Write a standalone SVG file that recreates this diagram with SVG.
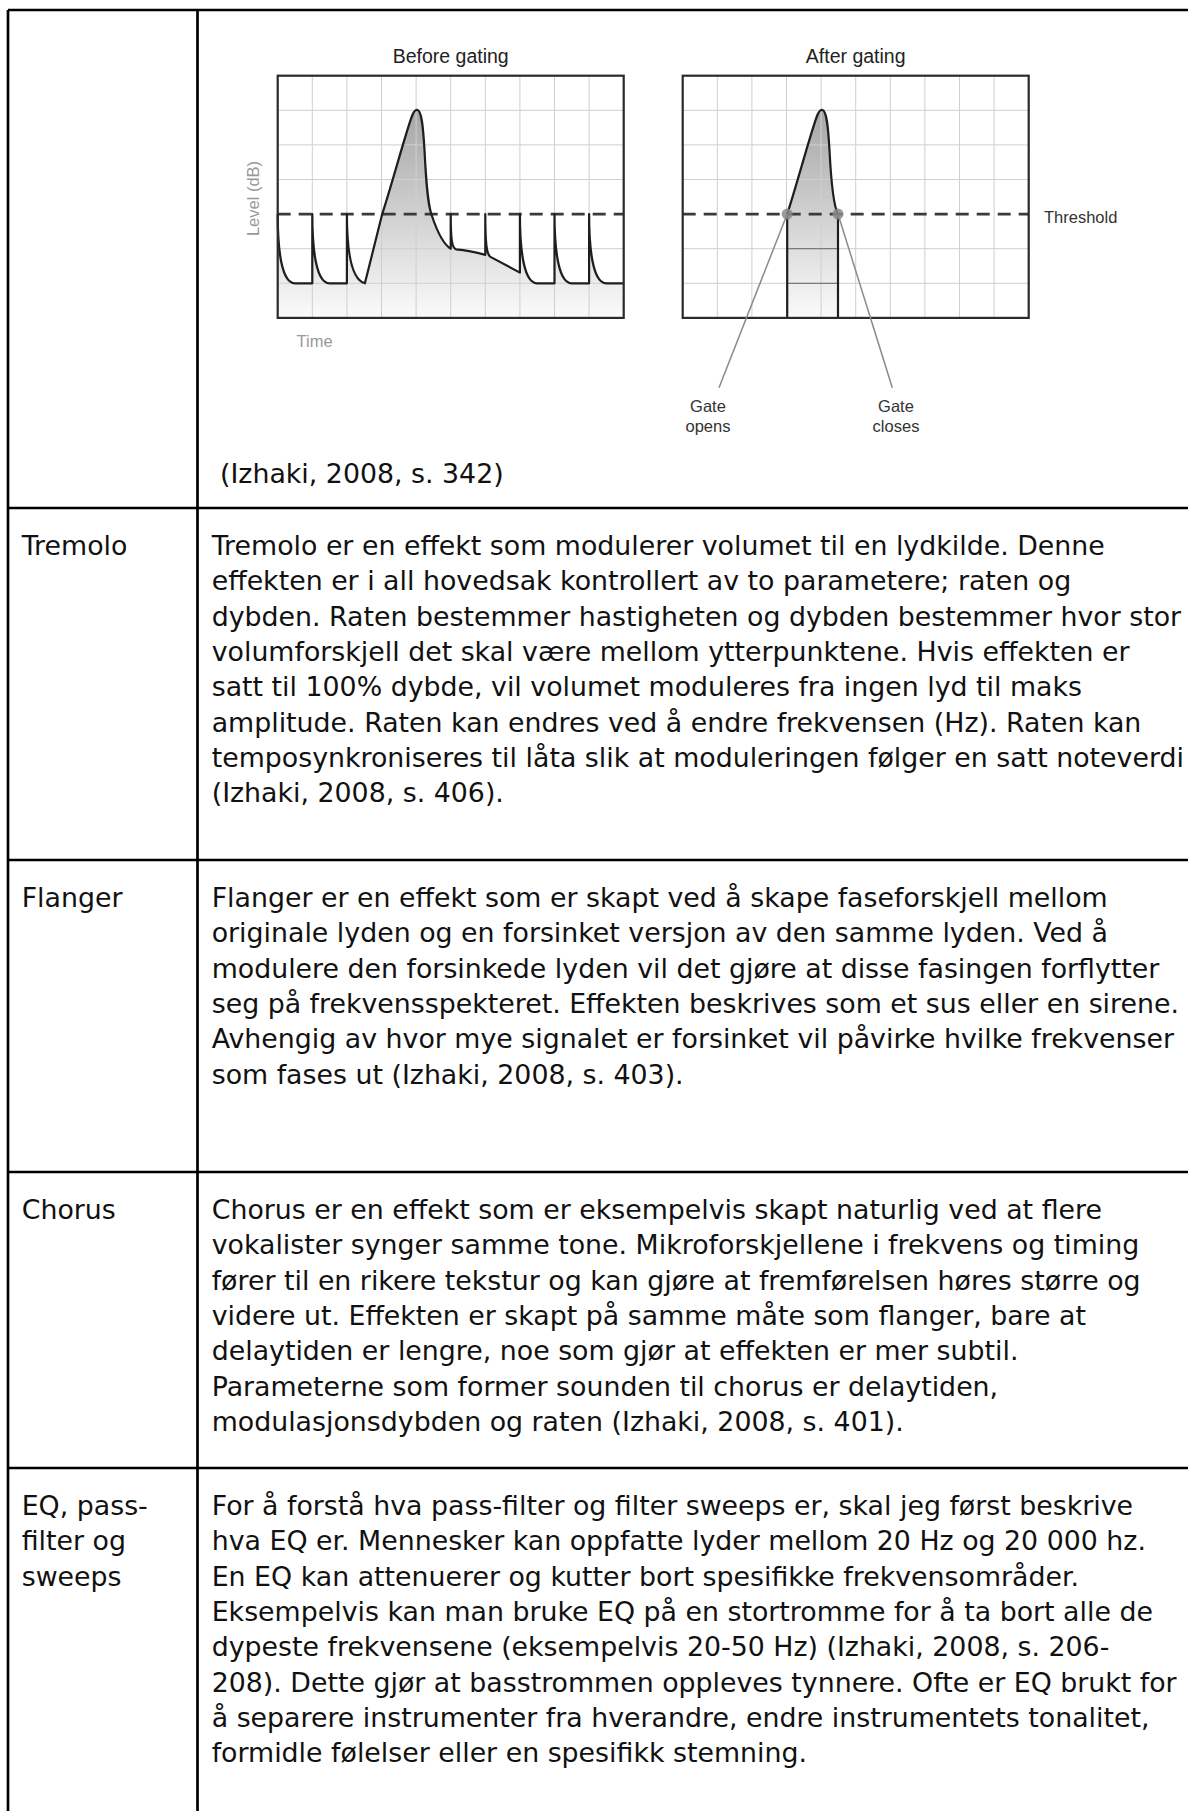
<svg xmlns="http://www.w3.org/2000/svg" width="1188" height="1811" viewBox="0 0 1188 1811">
<style>
.bg{fill:#ffffff}
.tl{stroke:#000;stroke-width:2.7;fill:none}
.body{font-family:"DejaVu Sans",Verdana,sans-serif;font-size:26.8px;fill:#111}
.grid{stroke:#cfcfcf;stroke-width:1;fill:none}
.frame{stroke:#2a2a2a;stroke-width:2.2;fill:none}
.thr{stroke:#3a3a3a;stroke-width:2.8;stroke-dasharray:13 8;fill:none}
.wave{stroke:#1e1e1e;stroke-width:2.2;fill:none;stroke-linejoin:round}
.ttl{font-family:"Liberation Sans",Arial,sans-serif;font-size:19.5px;fill:#222}
.ax{font-family:"Liberation Sans",Arial,sans-serif;font-size:16.5px;fill:#9a9a9a}
.lab{font-family:"Liberation Sans",Arial,sans-serif;font-size:16.5px;fill:#333}
.lead{stroke:#8a8a8a;stroke-width:1.5;fill:none}
.dot{fill:#8a8a8a;fill-opacity:0.85}
.inner{stroke:#7a7a7a;stroke-width:1.3;fill:none}
.gedge{stroke:#1e1e1e;stroke-width:2.2;fill:none}
</style>
<defs>
<linearGradient id="fillg" gradientUnits="userSpaceOnUse" x1="0" y1="110" x2="0" y2="318">
<stop offset="0" stop-color="#a6a6a6"/>
<stop offset="0.5" stop-color="#d0d0d0"/>
<stop offset="1" stop-color="#fbfbfb"/>
</linearGradient>
</defs>
<rect class="bg" x="0" y="0" width="1188" height="1811"/>

<g id="table-lines">
<line class="tl" x1="8" y1="10" x2="1188" y2="10"/>
<line class="tl" x1="8" y1="10" x2="8" y2="1811"/>
<line class="tl" x1="197.5" y1="10" x2="197.5" y2="1811"/>
<line class="tl" x1="8" y1="508" x2="1188" y2="508"/>
<line class="tl" x1="8" y1="860" x2="1188" y2="860"/>
<line class="tl" x1="8" y1="1172" x2="1188" y2="1172"/>
<line class="tl" x1="8" y1="1468" x2="1188" y2="1468"/>
</g>

<g id="row-gate">
<g id="chart-before">
<path fill="url(#fillg)" d="M277.7,214.1 C277.7,255.6 282.9,283.3 295,283.3 L312.3,283.3 L312.3,214.1 C312.3,255.6 317.5,283.3 329.6,283.3 L346.9,283.3 L346.9,214.1 C346.9,255.6 352.1,280 364.9,283.3 L382.2,214.1 C392,184 405,135 412,116 C414,111 416,109.5 417.5,110 C421.5,111 423,125 424.5,150 C426,180 427.5,205 432,216 C436,228 443,244 450.7,248.7 L450.7,214.1 C450.7,240 452,248 456,249.3 Q470,250.5 485.3,254.9 L485.3,214.1 C485.3,243 486.5,253 490,256.6 L519.9,272.6 L519.9,214.1 C519.9,255.6 525.1,283.3 537.2,283.3 L554.5,283.3 L554.5,214.1 C554.5,255.6 559.7,283.3 571.8,283.3 L589.1,283.3 L589.1,214.1 C589.1,255.6 594.3,283.3 606.4,283.3 L623.7,283.3 L623.7,317.9 L277.7,317.9 Z"/>
<path class="grid" d="M312.3,75.7V317.9 M346.9,75.7V317.9 M381.5,75.7V317.9 M416.1,75.7V317.9 M450.7,75.7V317.9 M485.3,75.7V317.9 M519.9,75.7V317.9 M554.5,75.7V317.9 M589.1,75.7V317.9 M277.7,110.3H623.7 M277.7,144.9H623.7 M277.7,179.5H623.7 M277.7,248.7H623.7 M277.7,283.3H623.7"/>
<line class="thr" x1="277.7" y1="214.1" x2="623.7" y2="214.1"/>
<path class="wave" d="M277.7,214.1 C277.7,255.6 282.9,283.3 295,283.3 L312.3,283.3 L312.3,214.1 C312.3,255.6 317.5,283.3 329.6,283.3 L346.9,283.3 L346.9,214.1 C346.9,255.6 352.1,280 364.9,283.3 L382.2,214.1 C392,184 405,135 412,116 C414,111 416,109.5 417.5,110 C421.5,111 423,125 424.5,150 C426,180 427.5,205 432,216 C436,228 443,244 450.7,248.7 L450.7,214.1 C450.7,240 452,248 456,249.3 Q470,250.5 485.3,254.9 L485.3,214.1 C485.3,243 486.5,253 490,256.6 L519.9,272.6 L519.9,214.1 C519.9,255.6 525.1,283.3 537.2,283.3 L554.5,283.3 L554.5,214.1 C554.5,255.6 559.7,283.3 571.8,283.3 L589.1,283.3 L589.1,214.1 C589.1,255.6 594.3,283.3 606.4,283.3 L623.7,283.3"/>
<rect class="frame" x="277.7" y="75.7" width="346" height="242.2"/>
<text class="ttl" x="450.7" y="63" text-anchor="middle">Before gating</text>
<text class="ax" transform="translate(259,198.5) rotate(-90)" text-anchor="middle">Level (dB)</text>
<text class="ax" x="296.6" y="346.7">Time</text>
</g>

<g id="chart-after">
<path fill="url(#fillg)" d="M787.2,317.9 L787.2,214.1 C797,184 810,135 817,116 C819,111 821,109.5 822.5,110 C826.5,111 828,125 829.5,150 C831,180 833,205 838,214.1 L838,317.9 Z"/>
<path class="grid" d="M717.3,75.7V317.9 M751.9,75.7V317.9 M786.5,75.7V317.9 M821.1,75.7V317.9 M855.7,75.7V317.9 M890.3,75.7V317.9 M924.9,75.7V317.9 M959.5,75.7V317.9 M994.1,75.7V317.9 M682.7,110.3H1028.7 M682.7,144.9H1028.7 M682.7,179.5H1028.7 M682.7,248.7H1028.7 M682.7,283.3H1028.7"/>
<path class="inner" d="M787.2,248.7H838 M787.2,283.3H838"/>
<line class="thr" x1="682.7" y1="214.1" x2="1028.7" y2="214.1"/>
<path class="gedge" d="M787.2,317.9 L787.2,214.1 C797,184 810,135 817,116 C819,111 821,109.5 822.5,110 C826.5,111 828,125 829.5,150 C831,180 833,205 838,214.1 L838,317.9"/>
<rect class="frame" x="682.7" y="75.7" width="346" height="242.2"/>
<text class="ttl" x="855.7" y="63" text-anchor="middle">After gating</text>
<text class="lab" x="1044" y="223" font-size="17px">Threshold</text>
</g>

<g id="connectors">
<line class="lead" x1="787.2" y1="214.1" x2="719" y2="387.7"/>
<line class="lead" x1="838" y1="214.1" x2="892.3" y2="387.7"/>
<circle class="dot" cx="787.2" cy="214.1" r="5.5"/>
<circle class="dot" cx="838" cy="214.1" r="5.5"/>
</g>

<g id="gate-labels">
<text class="lab" x="708" y="412" text-anchor="middle">Gate</text>
<text class="lab" x="708" y="432" text-anchor="middle">opens</text>
<text class="lab" x="896" y="412" text-anchor="middle">Gate</text>
<text class="lab" x="896" y="432" text-anchor="middle">closes</text>
</g>

<text class="body" x="220" y="483">(Izhaki, 2008, s. 342)</text>
</g>

<g id="row-tremolo">
<text class="body" x="21.7" y="555">Tremolo</text>
<text class="body" x="211.7" y="555">Tremolo er en effekt som modulerer volumet til en lydkilde. Denne</text>
<text class="body" x="211.7" y="590.3">effekten er i all hovedsak kontrollert av to parametere; raten og</text>
<text class="body" x="211.7" y="625.6">dybden. Raten bestemmer hastigheten og dybden bestemmer hvor stor</text>
<text class="body" x="211.7" y="660.9">volumforskjell det skal være mellom ytterpunktene. Hvis effekten er</text>
<text class="body" x="211.7" y="696.2">satt til 100% dybde, vil volumet moduleres fra ingen lyd til maks</text>
<text class="body" x="211.7" y="731.5">amplitude. Raten kan endres ved å endre frekvensen (Hz). Raten kan</text>
<text class="body" x="211.7" y="766.8">temposynkroniseres til låta slik at moduleringen følger en satt noteverdi</text>
<text class="body" x="211.7" y="802.1">(Izhaki, 2008, s. 406).</text>
</g>

<g id="row-flanger">
<text class="body" x="21.7" y="907">Flanger</text>
<text class="body" x="211.7" y="907">Flanger er en effekt som er skapt ved å skape faseforskjell mellom</text>
<text class="body" x="211.7" y="942.3">originale lyden og en forsinket versjon av den samme lyden. Ved å</text>
<text class="body" x="211.7" y="977.6">modulere den forsinkede lyden vil det gjøre at disse fasingen forflytter</text>
<text class="body" x="211.7" y="1012.9">seg på frekvensspekteret. Effekten beskrives som et sus eller en sirene.</text>
<text class="body" x="211.7" y="1048.2">Avhengig av hvor mye signalet er forsinket vil påvirke hvilke frekvenser</text>
<text class="body" x="211.7" y="1083.5">som fases ut (Izhaki, 2008, s. 403).</text>
</g>

<g id="row-chorus">
<text class="body" x="21.7" y="1219">Chorus</text>
<text class="body" x="211.7" y="1219">Chorus er en effekt som er eksempelvis skapt naturlig ved at flere</text>
<text class="body" x="211.7" y="1254.3">vokalister synger samme tone. Mikroforskjellene i frekvens og timing</text>
<text class="body" x="211.7" y="1289.6">fører til en rikere tekstur og kan gjøre at fremførelsen høres større og</text>
<text class="body" x="211.7" y="1324.9">videre ut. Effekten er skapt på samme måte som flanger, bare at</text>
<text class="body" x="211.7" y="1360.2">delaytiden er lengre, noe som gjør at effekten er mer subtil.</text>
<text class="body" x="211.7" y="1395.5">Parameterne som former sounden til chorus er delaytiden,</text>
<text class="body" x="211.7" y="1430.8">modulasjonsdybden og raten (Izhaki, 2008, s. 401).</text>
</g>

<g id="row-eq">
<text class="body" x="21.7" y="1515">EQ, pass-</text>
<text class="body" x="21.7" y="1550.3">filter og</text>
<text class="body" x="21.7" y="1585.6">sweeps</text>
<text class="body" x="211.7" y="1515">For å forstå hva pass-filter og filter sweeps er, skal jeg først beskrive</text>
<text class="body" x="211.7" y="1550.3">hva EQ er. Mennesker kan oppfatte lyder mellom 20 Hz og 20 000 hz.</text>
<text class="body" x="211.7" y="1585.6">En EQ kan attenuerer og kutter bort spesifikke frekvensområder.</text>
<text class="body" x="211.7" y="1620.9">Eksempelvis kan man bruke EQ på en stortromme for å ta bort alle de</text>
<text class="body" x="211.7" y="1656.2">dypeste frekvensene (eksempelvis 20-50 Hz) (Izhaki, 2008, s. 206-</text>
<text class="body" x="211.7" y="1691.5">208). Dette gjør at basstrommen oppleves tynnere. Ofte er EQ brukt for</text>
<text class="body" x="211.7" y="1726.8">å separere instrumenter fra hverandre, endre instrumentets tonalitet,</text>
<text class="body" x="211.7" y="1762.1">formidle følelser eller en spesifikk stemning.</text>
</g>
</svg>
